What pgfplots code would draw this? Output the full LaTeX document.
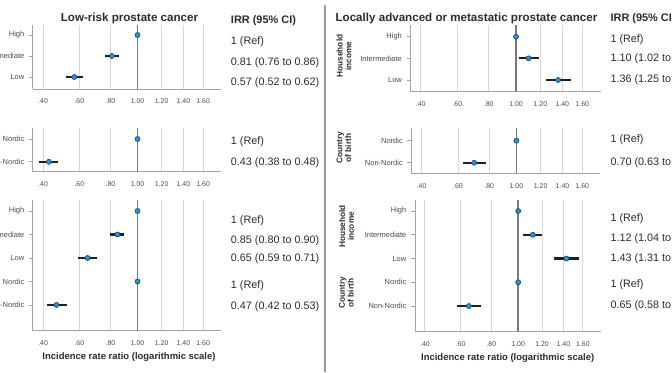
\documentclass[border=0pt]{standalone}
\usepackage{fontspec}
\setmainfont{Liberation Sans}
\usepackage{pgfplots}
\pgfplotsset{compat=1.18}
\definecolor{gridc}{HTML}{D6D6D6}
\definecolor{axc}{HTML}{A3A3A3}
\definecolor{refc}{HTML}{7A7A7A}
\definecolor{labc}{HTML}{4A4A4A}
\definecolor{mkfill}{HTML}{2F8FD0}
\definecolor{mkdraw}{HTML}{1B4F72}
\definecolor{txtc}{HTML}{2B2B2B}
\definecolor{sepc}{HTML}{9A9A9A}
\newcommand\titlefont{\fontsize{8.7}{10}\selectfont\bfseries}
\newcommand\valfont{\fontsize{8.1}{9.5}\selectfont}
\newcommand\hdfont{\fontsize{8.2}{9.5}\selectfont\bfseries}
\newcommand\xlabfont{\fontsize{7.1}{8.5}\selectfont\bfseries}
\newcommand\grpfont{\fontsize{6.2}{6.6}\selectfont\bfseries}
\newcommand\tickfont{\fontsize{5.2}{6}\selectfont}
\newcommand\ylabfont{\fontsize{5.6}{6.5}\selectfont}
\pgfplotsset{
  fp/.style={
    scale only axis, y dir=reverse, anchor=north west,
    x coord trafo/.code={\pgfmathparse{ln(##1+0.7)}},
    x coord inv trafo/.code={\pgfmathparse{exp(##1)-0.7}},
    xmin=0.35, xmax=1.80,
    xtick={0.4,0.6,0.8,1,1.2,1.4,1.6},
    xticklabels={.40,.60,.80,1.00,1.20,1.40,1.60},
    xmajorgrids, grid style={line width=0.75pt, color=gridc},
    axis x line*=bottom, axis y line*=left,
    axis line style={-, line width=0.75pt, color=axc},
    tick align=outside,
    xtick style={draw=none},
    ytick style={line width=0.6pt, color=axc},
    major tick length=3pt,
    xticklabel style={font=\tickfont, text=labc, yshift=-1pt},
    yticklabel style={font=\ylabfont, text=labc},
    extra x ticks={1},
    extra x tick labels={},
    extra x tick style={grid style={line width=1.1pt, color=refc}},
    clip=false,
  },
  ci/.style={line width=1.7pt, color=black!88, no markers},
  pt/.style={only marks, mark=*, mark size=1.9pt, mark options={fill=mkfill, draw=mkdraw, line width=0.5pt}},
}
\begin{document}
\begin{tikzpicture}
\useasboundingbox (0,0) rectangle (504pt,-279pt);
\clip (0,0) rectangle (504pt,-279pt);

% ---------- Left column: Low-risk prostate cancer ----------
\begin{axis}[fp, at={(24.75pt,-18.75pt)}, width=141.2pt, height=48pt,
  ymin=0.524, ymax=3.571, ytick={1,2,3}, yticklabels={High,Intermediate,Low}]
  \addplot[ci] coordinates {(0.76,2) (0.86,2)};
  \addplot[ci] coordinates {(0.52,3) (0.62,3)};
  \addplot[pt] coordinates {(1,1) (0.81,2) (0.57,3)};
\end{axis}

\begin{axis}[fp, at={(24.75pt,-96pt)}, width=141.2pt, height=32.8pt,
  ymin=0.515, ymax=2.44, ytick={1,2}, yticklabels={Nordic,Non-Nordic}]
  \addplot[ci] coordinates {(0.38,2) (0.48,2)};
  \addplot[pt] coordinates {(1,1) (0.43,2)};
\end{axis}

\begin{axis}[fp, at={(24.75pt,-150pt)}, width=141.2pt, height=98pt,
  ymin=0.532, ymax=6.094, ytick={1,2,3,4,5},
  yticklabels={High,Intermediate,Low,Nordic,Non-Nordic}]
  \addplot[ci] coordinates {(0.80,2) (0.90,2)};
  \addplot[ci] coordinates {(0.59,3) (0.71,3)};
  \addplot[ci] coordinates {(0.42,5) (0.53,5)};
  \addplot[pt] coordinates {(1,1) (0.85,2) (0.65,3) (1,4) (0.47,5)};
\end{axis}

% ---------- Right column: Locally advanced or metastatic ----------
\begin{axis}[fp, at={(307.9pt,-18.75pt)}, width=142.5pt, height=50pt,
  ymin=0.46, ymax=3.54, ytick={1,2,3}, yticklabels={High,Intermediate,Low}]
  \addplot[ci] coordinates {(1.02,2) (1.19,2)};
  \addplot[ci] coordinates {(1.25,3) (1.48,3)};
  \addplot[pt] coordinates {(1,1) (1.10,2) (1.36,3)};
\end{axis}

\begin{axis}[fp, at={(308.6pt,-96pt)}, width=141.75pt, height=34pt,
  ymin=0.423, ymax=2.48, ytick={1,2}, yticklabels={Nordic,Non-Nordic}]
  \addplot[ci] coordinates {(0.63,2) (0.78,2)};
  \addplot[pt] coordinates {(1,1) (0.70,2)};
\end{axis}

\begin{axis}[fp, at={(311.25pt,-150pt)}, width=139.35pt, height=98.8pt,
  ymin=0.537, ymax=6.08, ytick={1,2,3,4,5},
  yticklabels={High,Intermediate,Low,Nordic,Non-Nordic}]
  \addplot[ci] coordinates {(1.04,2) (1.20,2)};
  \addplot[ci] coordinates {(1.31,3) (1.56,3)};
  \addplot[ci] coordinates {(0.58,5) (0.73,5)};
  \addplot[pt] coordinates {(1,1) (1.12,2) (1.43,3) (1,4) (0.65,5)};
\end{axis}

\begin{scope}[x=0.75pt,y=-0.75pt]
  \draw[sepc, line width=0.8pt] (325,5) -- (325,372);
  \node[font=\titlefont, text=txtc] at (129.5,18) {Low-risk prostate cancer};
  \node[font=\titlefont, text=txtc] at (466.5,18) {Locally advanced or metastatic prostate cancer};
  \node[font=\xlabfont, text=txtc] at (129,356.7) {Incidence rate ratio (logarithmic scale)};
  \node[font=\xlabfont, text=txtc] at (507.7,358.3) {Incidence rate ratio (logarithmic scale)};
  \node[font=\grpfont, text=txtc, rotate=90, align=center] at (344,56) {Household\\income};
  \node[font=\grpfont, text=txtc, rotate=90, align=center] at (344,148) {Country\\of birth};
  \node[font=\grpfont, text=txtc, rotate=90, align=center] at (346.5,226.5) {Household\\income};
  \node[font=\grpfont, text=txtc, rotate=90, align=center] at (346.5,293) {Country\\of birth};
  % IRR column, left
  \begin{scope}[every node/.style={anchor=west, inner sep=0pt, text=txtc, font=\valfont}]
    \node[font=\hdfont] at (230.7,20.7) {IRR (95\% CI)};
    \node at (230.7,41.7) {1 (Ref)};
    \node at (230.7,62.3) {0.81 (0.76 to 0.86)};
    \node at (230.7,82.3) {0.57 (0.52 to 0.62)};
    \node at (230.7,141.7) {1 (Ref)};
    \node at (230.7,162.7) {0.43 (0.38 to 0.48)};
    \node at (230.7,220.7) {1 (Ref)};
    \node at (230.7,240.7) {0.85 (0.80 to 0.90)};
    \node at (230.7,258.3) {0.65 (0.59 to 0.71)};
    \node at (230.7,285.7) {1 (Ref)};
    \node at (230.7,306.7) {0.47 (0.42 to 0.53)};
    % right
    \node[font=\hdfont] at (610.3,18.3) {IRR (95\% CI)};
    \node at (610.3,39.3) {1 (Ref)};
    \node at (610.3,58.3) {1.10 (1.02 to 1.19)};
    \node at (610.3,79.3) {1.36 (1.25 to 1.48)};
    \node at (610.3,140) {1 (Ref)};
    \node at (610.3,162.7) {0.70 (0.63 to 0.78)};
    \node at (610.3,219) {1 (Ref)};
    \node at (610.3,239) {1.12 (1.04 to 1.20)};
    \node at (610.3,258.3) {1.43 (1.31 to 1.56)};
    \node at (610.3,284.3) {1 (Ref)};
    \node at (610.3,306) {0.65 (0.58 to 0.73)};
  \end{scope}
\end{scope}
\end{tikzpicture}
\end{document}
